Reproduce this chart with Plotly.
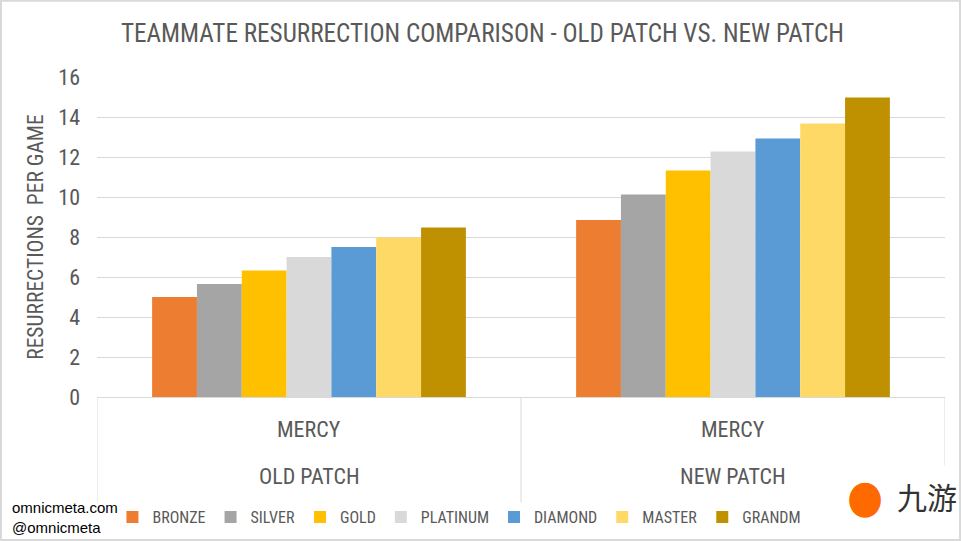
import plotly.graph_objects as go

patches = ["OLD PATCH", "NEW PATCH"]
heroes = ["MERCY", "MERCY"]
ranks = ["BRONZE", "SILVER", "GOLD", "PLATINUM", "DIAMOND", "MASTER", "GRANDMASTER"]
colors = ["#ED7D31", "#A5A5A5", "#FFC000", "#D9D9D9", "#5B9BD5", "#FFD966", "#BF9000"]
old_patch = [5.0, 5.65, 6.32, 7.0, 7.5, 7.97, 8.47]
new_patch = [8.85, 10.13, 11.32, 12.27, 12.93, 13.68, 14.98]
title_text = "TEAMMATE RESURRECTION COMPARISON - OLD PATCH VS. NEW PATCH"
y_title = "RESURRECTIONS  PER GAME"

FONT = "Roboto Condensed, DejaVu Sans Condensed, sans-serif"
GRAY = "#595959"
LINE = "#D9D9D9"

fig = go.Figure()
for i, r in enumerate(ranks):
    fig.add_trace(go.Bar(
        x=patches, y=[old_patch[i], new_patch[i]],
        name=r, marker=dict(color=colors[i], line=dict(width=0)),
    ))

fig.update_layout(
    width=961, height=541,
    paper_bgcolor="white", plot_bgcolor="white",
    barmode="group", bargap=0.26, bargroupgap=0,
    margin=dict(l=97, r=16, t=77, b=144, autoexpand=False),
    title=dict(text=title_text, x=0.502, xanchor="center", y=0.939, yanchor="middle",
               font=dict(family=FONT, size=25.2, color=GRAY)),
    font=dict(family=FONT, color=GRAY),
    yaxis=dict(range=[0, 16], dtick=2, showgrid=True, gridcolor=LINE, gridwidth=1,
               zeroline=False, showline=False, ticklabelstandoff=16, automargin=False,
               tickfont=dict(family=FONT, size=22, color=GRAY),
               title=dict(text=y_title, font=dict(family=FONT, size=21.5, color=GRAY),
                          standoff=8)),
    xaxis=dict(range=[-0.5, 1.5], showline=True, linecolor=LINE, linewidth=1,
               showticklabels=False, ticks="", automargin=False),
    legend=dict(orientation="h", xref="container", yref="container",
                x=0.117, xanchor="left", y=0.044, yanchor="middle",
                font=dict(family=FONT, size=16, color=GRAY), itemwidth=30,
                traceorder="normal", bgcolor="rgba(0,0,0,0)"),
)

# category labels and dividers of the two-level axis
for p, h in zip(patches, heroes):
    fig.add_annotation(text=h, x=p, xref="x", y=-0.103, yref="paper", showarrow=False,
                       yanchor="middle", font=dict(family=FONT, size=22, color=GRAY))
    fig.add_annotation(text=p, x=p, xref="x", y=-0.247, yref="paper", showarrow=False,
                       yanchor="middle", font=dict(family=FONT, size=22, color=GRAY))
for xv in [-0.5, 0.5, 1.5]:
    fig.add_shape(type="line", xref="x", yref="paper", x0=xv, x1=xv, y0=0, y1=-0.33,
                  line=dict(color=LINE, width=1))

# outer frame
fig.add_shape(type="rect", xref="paper", yref="paper", x0=-0.1132, x1=1.0177, y0=-0.447, y1=1.238,
              line=dict(color=LINE, width=2), fillcolor="rgba(0,0,0,0)")

fig.add_annotation(text="omnicmeta.com<br>@omnicmeta", xref="paper", yref="paper",
                   x=-0.1026, y=-0.378, xanchor="left", yanchor="middle", showarrow=False,
                   align="left", font=dict(family="Liberation Sans, Arial", size=15, color="black"))

# watermark logo box
fig.add_annotation(text=" ", xref="paper", yref="paper", x=0.829, y=-0.445,
                   xanchor="left", yanchor="bottom", showarrow=False, width=150, height=72,
                   bgcolor="white", borderpad=0, font=dict(size=10))
fig.add_annotation(text="●", xref="paper", yref="paper",
                   x=0.906, y=-0.31, xanchor="center", yanchor="middle", showarrow=False,
                   font=dict(size=46, color="#FF6A00"))
fig.add_annotation(text="九游", xref="paper", yref="paper",
                   x=1.017, y=-0.31, xanchor="right", yanchor="middle", showarrow=False,
                   font=dict(family="Noto Sans CJK SC", size=30, color="#333333"))

fig.write_html("out.html", post_script="document.body.style.margin='0';",
               config={"displayModeBar": False})
